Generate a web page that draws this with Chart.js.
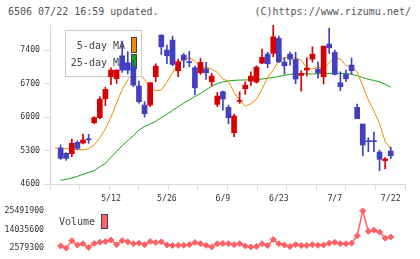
<!DOCTYPE html>
<html>
<head>
<meta charset="utf-8">
<script src="https://cdn.jsdelivr.net/npm/chart.js@4.4.1/dist/chart.umd.min.js"></script>
<style>
body { margin: 0; background: #fff; width: 420px; height: 259px; overflow: hidden; position: relative; font-family: "DejaVu Sans Mono", monospace; }
.head { position: absolute; top: 6px; font-size: 10px; line-height: 12px; color: #555; white-space: pre; }
#title { left: 8px; }
#copy { right: 9px; }
#priceCanvas { position: absolute; left: 0; top: 0; }
#volCanvas { position: absolute; left: 0; top: 200px; }
</style>
</head>
<body>
<div class="head" id="title">6506 07/22 16:59 updated.</div>
<div class="head" id="copy">(C)https://www.rizumu.net/</div>
<canvas id="priceCanvas" width="420" height="205"></canvas>
<canvas id="volCanvas" width="420" height="59"></canvas>
<script>
// candles, one per trading day (index 0 .. 59)
const opens  = [5352, 5241, 5234, 5471, 5457, 5540, 5881, 5986, 6383, 6843,
                6801, 7281, 7135, 7051, 6648, 6251, 6251, 6843, 7713, 7400,
                7609, 6968, 7295, 7155, 7031, 6926, 7010, 6738, 6265, 6529,
                6202, 5672, 6325, 6592, 6752, 6731, 7128, 7316, 7330, 7644,
                7149, 7316, 7205, 6871, 6982, 7212, 7003, 6843, 7526, 7351,
                6717, 6892, 7087, 6202, 5854, 5500, 5500, 5269, 5088, 5290];
const highs  = [5415, 5255, 5540, 5505, 5645, 5638, 6007, 6425, 6621, 7031,
                6990, 7588, 7365, 7170, 6752, 6320, 6720, 7114, 7720, 7504,
                7693, 7205, 7330, 7379, 7066, 7226, 7142, 6913, 6516, 6543,
                6251, 6063, 6529, 6738, 6947, 7072, 7421, 7358, 7923, 7693,
                7240, 7358, 7358, 6968, 7240, 7469, 7156, 7483, 7860, 7400,
                6947, 6982, 7233, 6272, 5854, 5568, 5686, 5310, 5150, 5373];
const lows   = [5116, 5095, 5171, 5317, 5436, 5450, 5860, 5965, 6236, 6676,
                6704, 6934, 6899, 6634, 6292, 6000, 6216, 6738, 7302, 7114,
                7072, 6843, 7031, 7051, 6466, 6892, 6788, 6654, 6216, 6146,
                5860, 5589, 6286, 6474, 6654, 6710, 7114, 7031, 7260, 7135,
                6899, 7087, 6696, 6543, 6857, 7149, 6808, 6690, 7330, 6878,
                6550, 6738, 6899, 5965, 5192, 5275, 5275, 4878, 4920, 5130];
const closes = [5137, 5137, 5450, 5346, 5520, 5525, 5986, 6376, 6579, 6982,
                6982, 6982, 6982, 6669, 6320, 6070, 6717, 7066, 7469, 7281,
                7100, 7156, 7191, 7140, 6612, 7142, 6926, 6857, 6439, 6376,
                5986, 6021, 6345, 6669, 6857, 7045, 7247, 7114, 7678, 7156,
                7072, 7212, 6794, 6913, 7024, 7316, 6926, 7483, 7449, 6892,
                6634, 6801, 6968, 5965, 5415, 5485, 5485, 5116, 5123, 5192];

// 5-day MA as drawn (starts one slot before the first candle: -1 .. 59)
const ma5Start = -1;
const ma5 = [5352, 5345, 5338, 5331, 5324, 5312, 5339, 5417, 5566, 5752, 5998,
             6291, 6581, 6780, 6901, 6919, 6787, 6605, 6552, 6568, 6728,
             6921, 7127, 7214, 7239, 7174, 7040, 7048, 7002, 6935, 6795,
             6748, 6517, 6336, 6232, 6278, 6375, 6586, 6832, 6986, 7188,
             7248, 7253, 7246, 7182, 7029, 7003, 7052, 6995, 7132, 7240,
             7213, 7077, 7052, 6949, 6652, 6357, 6127, 5864, 5493, 5325];
// 25-day MA (0 .. 59)
const ma25 = [4677, 4698, 4725, 4760, 4805, 4840, 4880, 4962, 5030, 5160,
              5280, 5400, 5510, 5610, 5730, 5800, 5855, 5910, 5990, 6056,
              6140, 6215, 6290, 6360, 6430, 6490, 6570, 6645, 6700, 6735,
              6755, 6768, 6773, 6775, 6780, 6785, 6795, 6810, 6830, 6850,
              6872, 6895, 6905, 6906, 6902, 6900, 6905, 6910, 6912, 6913,
              6913, 6910, 6895, 6865, 6828, 6790, 6765, 6735, 6690, 6620];

const volumes = [3900000, 2579300, 7160000, 4470000, 5270000, 2980000, 5440000, 6190000, 6590000, 7560000,
                 4700000, 7160000, 6420000, 5270000, 5620000, 4700000, 6590000, 6020000, 6420000, 4470000,
                 4130000, 4300000, 4300000, 4700000, 6020000, 5270000, 4300000, 3320000, 5270000, 5440000,
                 5270000, 4700000, 5270000, 3900000, 3320000, 3550000, 5270000, 4130000, 7910000, 5270000,
                 4470000, 3550000, 4700000, 4130000, 4130000, 4700000, 4300000, 4470000, 5620000, 6190000,
                 5270000, 5270000, 5620000, 10200000, 25491900, 12890000, 13630000, 12490000, 8710000, 9450000];

const dateLabels = ['5/12', '5/26', '6/9', '6/23', '7/7', '7/22'];
const dateIdx = [9, 19, 29, 39, 49, 59];
const priceTicks = [4600, 5300, 6000, 6700, 7400];
const volTicks = [2579300, 14035600, 25491900];

const UP = '#d60000', DOWN = '#4040c0';
const AXIS = '#d9d9d9';
const MONO = '"DejaVu Sans Mono", monospace';
const X_MIN = -1.9, X_MAX = 61.55;

const candleColors = opens.map((o, i) => closes[i] >= o ? UP : DOWN);

// legend box: drawn over the MA lines but under the candles
const priceLegend = {
    id: 'priceLegend',
    afterDatasetDraw(chart, args) {
        if (args.index !== 2) return;
        const ctx = chart.ctx;
        ctx.save();
        ctx.fillStyle = '#fff';
        ctx.fillRect(65, 30, 77, 47);
        ctx.strokeStyle = '#cccccc';
        ctx.lineWidth = 1;
        ctx.strokeRect(65.5, 30.5, 76, 46);
        ctx.font = '10px ' + MONO;
        ctx.fillStyle = '#444';
        ctx.textAlign = 'right';
        ctx.textBaseline = 'middle';
        ctx.fillText('5-day MA', 125, 46);
        ctx.fillText('25-day MA', 125, 63);
        ctx.strokeStyle = '#444';
        ctx.fillStyle = '#f08c00';
        ctx.fillRect(131.5, 37.5, 5, 15);
        ctx.strokeRect(131.5, 37.5, 5, 15);
        ctx.fillStyle = '#12a812';
        ctx.fillRect(131.5, 54.5, 5, 14);
        ctx.strokeRect(131.5, 54.5, 5, 14);
        ctx.restore();
    }
};

const volLegend = {
    id: 'volLegend',
    afterDraw(chart) {
        const ctx = chart.ctx;
        ctx.save();
        ctx.font = '10px ' + MONO;
        ctx.fillStyle = '#444';
        ctx.textAlign = 'left';
        ctx.textBaseline = 'middle';
        ctx.fillText('Volume', 59, 22);
        ctx.fillStyle = '#ff6064';
        ctx.strokeStyle = '#444';
        ctx.fillRect(101.5, 14.5, 6, 14);
        ctx.strokeRect(101.5, 14.5, 6, 14);
        ctx.restore();
    }
};

const priceChart = new Chart('priceCanvas', {
    type: 'bar',
    data: {
        datasets: [
            {
                label: 'body',
                data: opens.map((o, i) => ({ x: i, y: [o, closes[i]] })),
                backgroundColor: candleColors,
                barThickness: 5,
                minBarLength: 1,
                grouped: false
            },
            {
                label: 'wick',
                data: lows.map((l, i) => ({ x: i, y: [l, highs[i]] })),
                backgroundColor: candleColors,
                barThickness: 1,
                grouped: false
            },
            {
                type: 'line',
                label: '5-day MA',
                data: ma5.map((v, i) => ({ x: i + ma5Start, y: v })),
                borderColor: '#f08c00',
                borderWidth: 1,
                pointRadius: 0,
                tension: 0
            },
            {
                type: 'line',
                label: '25-day MA',
                data: ma25.map((v, i) => ({ x: i, y: v })),
                borderColor: '#12a812',
                borderWidth: 1,
                pointRadius: 0,
                tension: 0
            }
        ]
    },
    options: {
        responsive: false,
        animation: false,
        devicePixelRatio: 1,
        layout: { padding: { left: 0, right: 15, top: 25, bottom: 0 } },
        plugins: { legend: { display: false }, tooltip: { enabled: false } },
        scales: {
            x: {
                type: 'linear',
                position: 'bottom',
                weight: 1,
                min: X_MIN,
                max: X_MAX,
                offset: false,
                afterBuildTicks: (scale) => { scale.ticks = dateIdx.map(v => ({ value: v })); },
                afterFit: (scale) => { scale.height = 15; },
                grid: { display: false, tickLength: 0 },
                border: { display: false },
                ticks: {
                    autoSkip: false,
                    maxRotation: 0,
                    padding: 4,
                    color: '#333',
                    font: { family: MONO, size: 8.2 },
                    callback: (v) => dateLabels[dateIdx.indexOf(v)]
                }
            },
            xt: {
                type: 'linear',
                position: 'bottom',
                weight: 0,
                min: 0,
                max: 11,
                afterFit: (scale) => { scale.height = 6; },
                grid: { drawOnChartArea: false, drawTicks: true, tickLength: 6, color: AXIS },
                border: { display: true, color: AXIS },
                ticks: { display: false, stepSize: 1 }
            },
            y: {
                type: 'linear',
                min: 4600,
                max: 7925,
                afterBuildTicks: (scale) => { scale.ticks = priceTicks.map(v => ({ value: v })); },
                afterFit: (scale) => { scale.width = 50; },
                grid: { drawOnChartArea: false, tickLength: 6, color: AXIS },
                border: { display: true, color: AXIS },
                ticks: {
                    padding: 4,
                    color: '#333',
                    font: { family: MONO, size: 8.2 },
                    callback: (v) => String(v)
                }
            }
        }
    },
    plugins: [priceLegend]
});

const volChart = new Chart('volCanvas', {
    type: 'line',
    data: {
        datasets: [{
            label: 'Volume',
            data: volumes.map((v, i) => ({ x: i, y: v })),
            borderColor: '#ff6064',
            backgroundColor: '#ff6064',
            borderWidth: 1.5,
            pointStyle: 'rectRot',
            pointRadius: 3,
            pointBorderWidth: 1,
            tension: 0,
            clip: false
        }]
    },
    options: {
        responsive: false,
        animation: false,
        devicePixelRatio: 1,
        layout: { padding: { left: 0, right: 15, top: 9, bottom: 10 } },
        plugins: { legend: { display: false }, tooltip: { enabled: false } },
        scales: {
            x: { type: 'linear', min: X_MIN, max: X_MAX, display: false },
            y: {
                type: 'linear',
                min: volTicks[0],
                max: volTicks[2],
                afterBuildTicks: (scale) => { scale.ticks = volTicks.map(v => ({ value: v })); },
                afterFit: (scale) => { scale.width = 50; },
                grid: { display: false, tickLength: 0 },
                border: { display: false },
                ticks: {
                    padding: 6,
                    color: '#333',
                    font: { family: MONO, size: 8.2 },
                    callback: (v) => String(v)
                }
            }
        }
    },
    plugins: [volLegend]
});
</script>
</body>
</html>
